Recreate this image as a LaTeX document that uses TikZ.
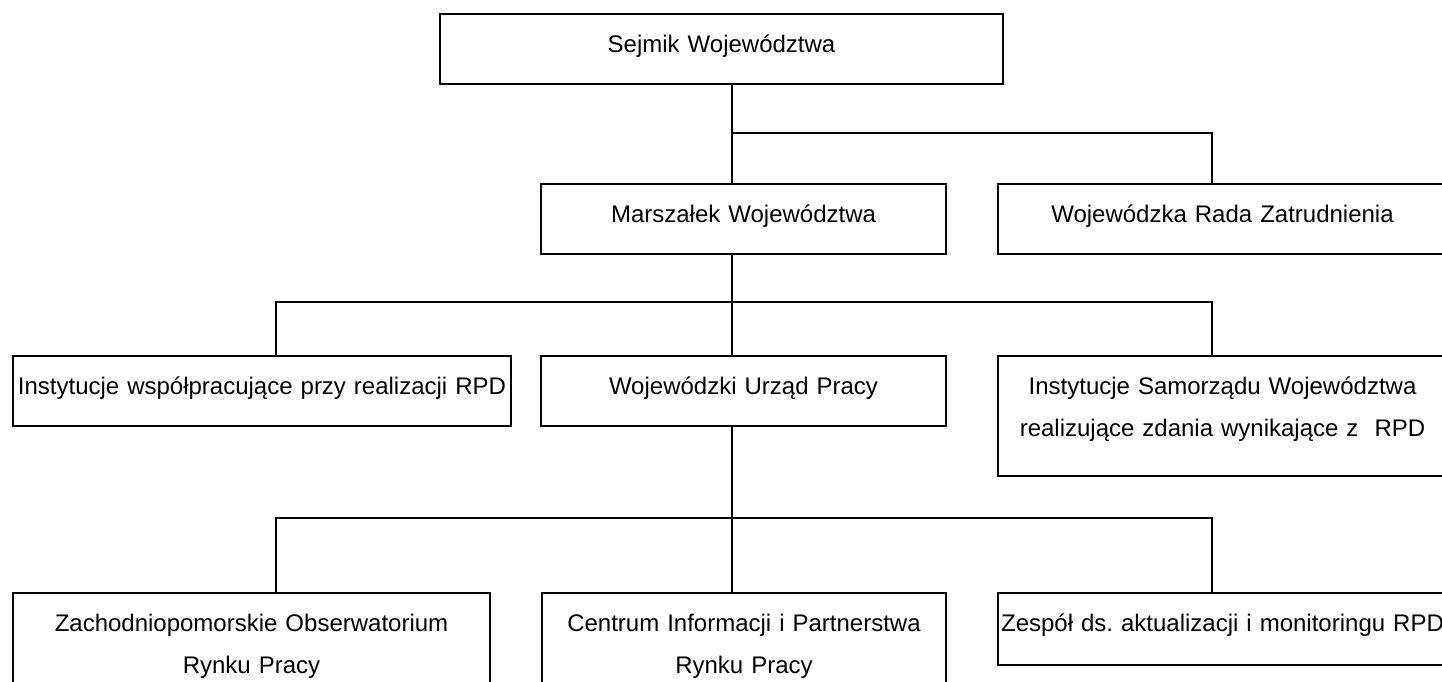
\documentclass[tikz,border=0pt]{standalone}
\usepackage{fontspec}
\setmainfont{Liberation Sans}
\frenchspacing
\tikzset{
  orgbox/.style={draw, line width=2pt, inner sep=0pt, anchor=north west,
    align=center, text height=38.5pt,
    font=\fontsize{24pt}{42pt}\selectfont},
  conn/.style={draw, line width=1.6pt}
}
\begin{document}
\begin{tikzpicture}[x=1pt,y=-1pt]
\useasboundingbox (0,0) rectangle (1442,682);
\clip (0,0) rectangle (1442,682);
% boxes
\node[orgbox, text width=563pt, text depth=31.5pt] (sejmik) at (439,13) {Sejmik Województwa};
\node[orgbox, text width=405pt, text depth=31.5pt] (marszalek) at (540,183) {Marszałek Województwa};
\node[orgbox, text width=449pt, text depth=31.5pt] (rada) at (997,183) {Wojewódzka Rada Zatrudnienia};
\node[orgbox, text width=498pt, text depth=31.5pt] (instwsp) at (12,355) {Instytucje współpracujące przy realizacji RPD};
\node[orgbox, text width=405pt, text depth=31.5pt] (wup) at (540,355) {Wojewódzki Urząd Pracy};
\node[orgbox, text width=449pt, text depth=81.5pt] (instsam) at (997,355) {Instytucje Samorządu Województwa\\realizujące zdania wynikające z\ \ RPD};
\node[orgbox, text width=477pt, text depth=81.5pt] (zachod) at (12,592) {Zachodniopomorskie Obserwatorium\\Rynku Pracy};
\node[orgbox, text width=404pt, text depth=81.5pt] (centrum) at (541,592) {Centrum Informacji i Partnerstwa\\Rynku Pracy};
\node[orgbox, text width=449pt, text depth=33.5pt] (zespol) at (997,592) {Zespół ds. aktualizacji i monitoringu RPD};
% junction points
\coordinate (j1) at (732,133);
\coordinate (b1) at (1212,133);
\coordinate (j2) at (732,302);
\coordinate (b2l) at (276,302);
\coordinate (b2r) at (1212,302);
\coordinate (j3) at (732,518);
\coordinate (b3l) at (276,518);
\coordinate (b3r) at (1212,518);
% connectors
\draw[conn] (sejmik.south -| j1) -- (marszalek.north -| j1);
\draw[conn] (j1) -- (b1) -- (rada.north -| b1);
\draw[conn] (marszalek.south -| j2) -- (wup.north -| j2);
\draw[conn] (instwsp.north -| b2l) -- (b2l) -- (b2r) -- (instsam.north -| b2r);
\draw[conn] (wup.south -| j3) -- (centrum.north -| j3);
\draw[conn] (zachod.north -| b3l) -- (b3l) -- (b3r) -- (zespol.north -| b3r);
\end{tikzpicture}
\end{document}
